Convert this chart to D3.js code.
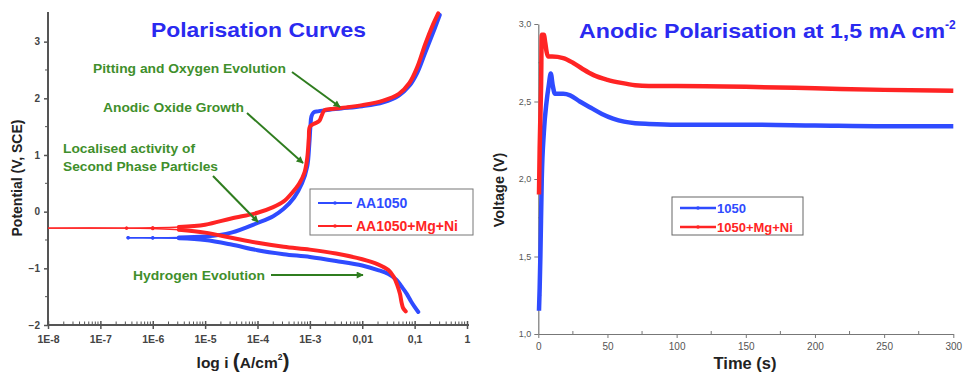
<!DOCTYPE html>
<html><head><meta charset="utf-8">
<script src="https://cdn.jsdelivr.net/npm/d3@7"></script>
<style>body{margin:0;background:#fff;} svg{display:block;font-family:"Liberation Sans",Arial,sans-serif;}</style>
</head><body>
<svg id="c" width="965" height="373"></svg>
<script>
// ---------- Left chart data: log10(i) [A/cm2] and potential E [V, SCE]
const blueAnodicLogI = [-6.47,-6.0,-5.5,-5.0,-4.5,-4.0,-3.7,-3.5,-3.3,-3.15,-3.05,-3.01,-2.99,-2.97,-2.93,-2.85,-2.7,-2.4,-2.0,-1.6,-1.3,-1.1,-0.95,-0.8,-0.65,-0.52];
const blueAnodicE    = [-0.46,-0.46,-0.455,-0.44,-0.37,-0.2,-0.08,0.05,0.25,0.5,0.8,1.2,1.5,1.68,1.75,1.77,1.79,1.82,1.86,1.93,2.05,2.22,2.45,2.8,3.15,3.47];
const blueCathodicLogI = [-6.47,-6.0,-5.5,-5.0,-4.5,-4.0,-3.5,-3.0,-2.5,-2.0,-1.7,-1.5,-1.35,-1.25,-1.15,-1.07,-1.0,-0.93];
const blueCathodicE    = [-0.46,-0.465,-0.47,-0.5,-0.58,-0.68,-0.75,-0.8,-0.87,-0.95,-1.03,-1.1,-1.2,-1.32,-1.45,-1.58,-1.68,-1.77];
const redAnodicLogI = [-8,-7,-6.5,-6.0,-5.5,-5.0,-4.5,-4.0,-3.7,-3.5,-3.35,-3.2,-3.1,-3.05,-3.02,-3.0,-2.92,-2.82,-2.78,-2.72,-2.6,-2.3,-2.0,-1.6,-1.3,-1.1,-0.95,-0.8,-0.65,-0.55];
const redAnodicE    = [-0.29,-0.29,-0.29,-0.285,-0.27,-0.23,-0.12,-0.02,0.08,0.18,0.32,0.5,0.7,0.95,1.3,1.5,1.55,1.6,1.68,1.79,1.81,1.84,1.88,1.96,2.08,2.27,2.55,2.95,3.3,3.5];
const redCathodicLogI = [-8,-6.5,-6.0,-5.5,-5.0,-4.5,-4.0,-3.5,-3.0,-2.5,-2.0,-1.7,-1.5,-1.4,-1.33,-1.28,-1.25,-1.22,-1.17];
const redCathodicE    = [-0.29,-0.29,-0.3,-0.32,-0.37,-0.46,-0.55,-0.62,-0.67,-0.74,-0.84,-0.93,-1.03,-1.15,-1.3,-1.45,-1.6,-1.7,-1.76];
const leftXTicks = [1e-8,1e-7,1e-6,1e-5,1e-4,1e-3,1e-2,1e-1,1];
const leftXTickLabels = ["1E-8","1E-7","1E-6","1E-5","1E-4","1E-3","0,01","0,1","1"];
const leftYTicks = [-2,-1,0,1,2,3];
const leftSeries = ["AA1050","AA1050+Mg+Ni"];

// ---------- Right chart data: time [s] and voltage [V]
const blueTime = [0.5,1,1.5,2.5,4,6,7.5,9,10.5,12,18,23,30,38,46,54,62,70,80,100,150,200,250,300];
const blueVolt = [1.15,1.3,1.5,2.0,2.3,2.5,2.6,2.68,2.6,2.55,2.55,2.54,2.5,2.46,2.42,2.39,2.37,2.36,2.355,2.35,2.35,2.345,2.34,2.34];
const redTime = [0.5,1,1.5,2,2.5,4,5,6,7,10,18,25,32,40,50,60,70,80,100,150,200,250,300];
const redVolt = [1.9,2.2,2.4,2.6,2.93,2.93,2.88,2.82,2.79,2.79,2.78,2.75,2.71,2.67,2.64,2.62,2.605,2.6,2.6,2.595,2.585,2.575,2.57];
const rightXTicks = [0,50,100,150,200,250,300];
const rightYTicks = [1.0,1.5,2.0,2.5,3.0];
const rightSeries = ["1050","1050+Mg+Ni"];

const BLUE = "#2f4bff", RED = "#ff2424", GREEN = "#3f8f2c", ARROW = "#2f7d1f", TITLE = "#2a2af0";
const svg = d3.select("#c");

// ================= LEFT CHART =================
const xL = d3.scaleLog().domain([1e-8, 1]).range([48, 467]);
const yL = d3.scaleLinear().domain([-2, 3.5]).range([325, 13.3]);
const gL = svg.append("g");

const xAxL = d3.axisBottom(xL).tickValues(leftXTicks).tickFormat((d,i)=>leftXTickLabels[i]).tickSize(4).tickSizeOuter(0);
const gx = gL.append("g").attr("transform","translate(0,325)").call(xAxL);
gx.select(".domain").attr("stroke","#555").attr("stroke-width",2).attr("d","M48,0H469");
gx.selectAll(".tick line").attr("stroke","#555").attr("stroke-width",1.5).attr("y1",-4);
gx.selectAll(".tick text").attr("font-size",10.5).attr("font-weight","bold").attr("fill","#444").attr("dy","1.05em");
const minorX = [];
for (let e=-8;e<0;e++) for (let m=2;m<10;m++) minorX.push(m*Math.pow(10,e));
gL.append("g").selectAll("line").data(minorX).join("line")
  .attr("x1",d=>xL(d)).attr("x2",d=>xL(d)).attr("y1",325).attr("y2",321.5)
  .attr("stroke","#555").attr("stroke-width",1);

const yAxL = d3.axisLeft(yL).tickValues(leftYTicks).tickFormat(d3.format("d")).tickSize(4).tickSizeOuter(0);
const gy = gL.append("g").attr("transform","translate(48,0)").call(yAxL);
gy.select(".domain").attr("stroke","#555").attr("stroke-width",2).attr("d","M0,325V12");
gy.selectAll(".tick line").attr("stroke","#555").attr("stroke-width",1.5);
gy.selectAll(".tick text").attr("font-size",10).attr("font-weight","bold").attr("fill","#444").attr("dx","-0.1em");
const minorY = [-1.5,-0.5,0.5,1.5,2.5];
gL.append("g").selectAll("line").data(minorY).join("line")
  .attr("x1",48).attr("x2",45).attr("y1",d=>yL(d)).attr("y2",d=>yL(d))
  .attr("stroke","#555").attr("stroke-width",1);

const lineL2 = d3.line().x(d=>xL(Math.pow(10,d[0]))).y(d=>yL(d[1])).curve(d3.curveCatmullRom);
function branch(li, e){ return li.map((v,i)=>[v,e[i]]); }
const curves = [
  {c:BLUE, a:branch(blueAnodicLogI,blueAnodicE), k:branch(blueCathodicLogI,blueCathodicE)},
  {c:RED,  a:branch(redAnodicLogI,redAnodicE),   k:branch(redCathodicLogI,redCathodicE)}
];
curves.forEach(s=>{
  [s.a, s.k].forEach(pts=>{
    gL.append("path").attr("d",lineL2(pts)).attr("fill","none").attr("stroke",s.c).attr("stroke-width",1.4);
    const thick = pts.filter(p=>p[0]>=-5.6);
    gL.append("path").attr("d",lineL2(thick)).attr("fill","none").attr("stroke",s.c).attr("stroke-width",4)
      .attr("stroke-linejoin","round").attr("stroke-linecap","round");
    gL.append("g").selectAll("circle").data(pts.filter(p=>p[0]<-5.4 && p[0]>-6.8)).join("circle")
      .attr("cx",p=>xL(Math.pow(10,p[0]))).attr("cy",p=>yL(p[1])).attr("r",1.7).attr("fill",s.c);
  });
});

gL.append("text").attr("x",151).attr("y",37).attr("textLength",215).attr("lengthAdjust","spacingAndGlyphs")
  .attr("font-size",21).attr("font-weight","bold").attr("fill",TITLE).text("Polarisation Curves");

const defs = svg.append("defs");
defs.append("marker").attr("id","ah").attr("viewBox","0 0 10 10").attr("refX",9).attr("refY",5)
  .attr("markerWidth",4.5).attr("markerHeight",3.5).attr("orient","auto-start-reverse")
  .append("path").attr("d","M0,0L10,5L0,10z").attr("fill",ARROW);
const notes = [
  {t:["Pitting and Oxygen Evolution"], w:[193], x:93, y:73, a:[292,72,340,107]},
  {t:["Anodic Oxide Growth"], w:[141], x:103, y:112, a:[247,113,303,163]},
  {t:["Localised activity of","Second Phase Particles"], w:[132,155], x:63, y:153, a:[213,176,258,222]},
  {t:["Hydrogen Evolution"], w:[132], x:133, y:280, a:[271,275,363,275]}
];
notes.forEach(n=>{
  n.t.forEach((s,i)=>{
    gL.append("text").attr("x",n.x).attr("y",n.y+i*17.5).attr("textLength",n.w[i]).attr("lengthAdjust","spacingAndGlyphs")
      .attr("font-size",12.5).attr("font-weight","bold").attr("fill",GREEN).text(s);
  });
  gL.append("line").attr("x1",n.a[0]).attr("y1",n.a[1]).attr("x2",n.a[2]).attr("y2",n.a[3])
    .attr("stroke",ARROW).attr("stroke-width",2).attr("marker-end","url(#ah)");
});

const lg = gL.append("g");
lg.append("rect").attr("x",310).attr("y",189).attr("width",163).attr("height",46).attr("fill","#fff").attr("stroke","#777").attr("stroke-width",1);
leftSeries.forEach((s,i)=>{
  const y = 203 + i*23, c = i?RED:BLUE;
  lg.append("line").attr("x1",318).attr("x2",352).attr("y1",y).attr("y2",y).attr("stroke",c).attr("stroke-width",2);
  lg.append("circle").attr("cx",335).attr("cy",y).attr("r",1.8).attr("fill",c);
  lg.append("text").attr("x",356).attr("y",y+5).attr("font-size",14).attr("font-weight","bold").attr("fill",c).text(s);
});

gL.append("text").attr("transform","translate(22,178) rotate(-90)").attr("text-anchor","middle")
  .attr("font-size",14).attr("font-weight","bold").attr("fill","#222").text("Potential (V, SCE)");
const xt = gL.append("text").attr("x",243).attr("y",368).attr("text-anchor","middle").attr("font-size",15.5).attr("font-weight","bold").attr("fill","#222");
xt.append("tspan").text("log i ");
xt.append("tspan").attr("font-size",21).text("(");
xt.append("tspan").text("A/cm");
xt.append("tspan").attr("font-size",8.5).attr("dy",-8).text("2");
xt.append("tspan").attr("font-size",21).attr("dy",8).text(")");

// ================= RIGHT CHART =================
const xR = d3.scaleLinear().domain([0,300]).range([538.3,953.3]);
const yR = d3.scaleLinear().domain([1,3]).range([334,24]);
const gR = svg.append("g");
const xAxR = d3.axisBottom(xR).tickValues(rightXTicks).tickFormat(d3.format("d")).tickSize(4).tickSizeOuter(0);
const gxr = gR.append("g").attr("transform","translate(0,334)").call(xAxR);
gxr.select(".domain").attr("stroke","#777").attr("stroke-width",1.2);
gxr.selectAll(".tick line").attr("stroke","#777");
gxr.selectAll(".tick text").attr("font-size",10).attr("fill","#555").attr("dy","0.9em");
gR.append("g").selectAll("line").data([25,75,125,175,225,275]).join("line")
  .attr("x1",d=>xR(d)).attr("x2",d=>xR(d)).attr("y1",334).attr("y2",331).attr("stroke","#777");
const yAxR = d3.axisLeft(yR).tickValues(rightYTicks).tickFormat(d3.format(",.1f")).tickSize(4).tickSizeOuter(0);
const gyr = gR.append("g").attr("transform","translate(538.3,0)").call(yAxR);
gyr.select(".domain").attr("stroke","#777").attr("stroke-width",1.2);
gyr.selectAll(".tick line").attr("stroke","#777");
gyr.selectAll(".tick text").attr("font-size",9).attr("fill","#555").text(d=>d.toFixed(1).replace(".",","));
gR.append("g").selectAll("line").data([1.25,1.75,2.25,2.75]).join("line")
  .attr("x1",538.3).attr("x2",541.3).attr("y1",d=>yR(d)).attr("y2",d=>yR(d)).attr("stroke","#777");

const lineR = d3.line().x(d=>xR(d[0])).y(d=>yR(d[1])).curve(d3.curveMonotoneX);
[[blueTime,blueVolt,BLUE],[redTime,redVolt,RED]].forEach(([t,v,c])=>{
  gR.append("path").attr("d",lineR(t.map((x,i)=>[x,v[i]]))).attr("fill","none").attr("stroke",c)
    .attr("stroke-width",4.5).attr("stroke-linejoin","round");
});

const tr = gR.append("text").attr("x",579).attr("y",38).attr("font-size",21).attr("font-weight","bold").attr("fill",TITLE);
tr.append("tspan").attr("textLength",366).attr("lengthAdjust","spacingAndGlyphs").text("Anodic Polarisation at 1,5 mA cm");
tr.append("tspan").attr("font-size",12).attr("dy",-9).text("-2");

const lr = gR.append("g");
lr.append("rect").attr("x",672).attr("y",197).attr("width",131).attr("height",38).attr("fill","#fff").attr("stroke","#666");
rightSeries.forEach((s,i)=>{
  const y = 208 + i*19, c = i?RED:BLUE;
  lr.append("line").attr("x1",680).attr("x2",716).attr("y1",y).attr("y2",y).attr("stroke",c).attr("stroke-width",2.5);
  lr.append("circle").attr("cx",698).attr("cy",y).attr("r",1.8).attr("fill",c);
  lr.append("text").attr("x",717).attr("y",y+4.5).attr("font-size",13).attr("font-weight","bold").attr("fill",c).text(s);
});

gR.append("text").attr("transform","translate(504,190) rotate(-90)").attr("text-anchor","middle")
  .attr("font-size",14.5).attr("font-weight","bold").attr("fill","#222").text("Voltage (V)");
gR.append("text").attr("x",745).attr("y",369).attr("text-anchor","middle")
  .attr("font-size",16.5).attr("font-weight","bold").attr("fill","#222").text("Time (s)");
</script>
</body></html>
